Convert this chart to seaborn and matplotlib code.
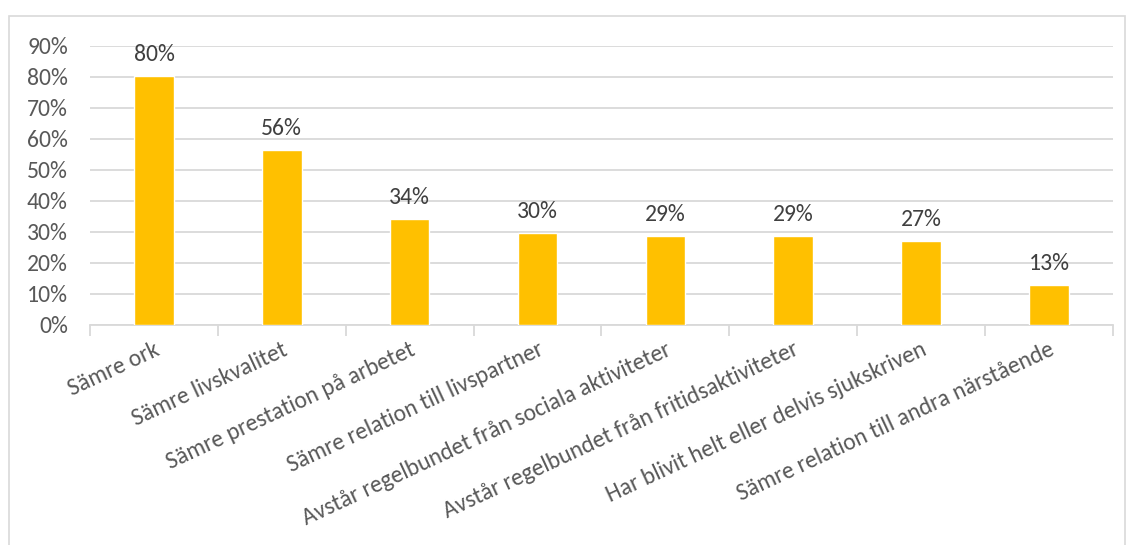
import numpy as np
import pandas as pd
import matplotlib.pyplot as plt
import seaborn as sns
from matplotlib.ticker import PercentFormatter, FixedLocator
from matplotlib.patches import Rectangle

# Data
categories = [
    "Sämre ork",
    "Sämre livskvalitet",
    "Sämre prestation på arbetet",
    "Sämre relation till livspartner",
    "Avstår regelbundet från sociala aktiviteter",
    "Avstår regelbundet från fritidsaktiviteter",
    "Har blivit helt eller delvis sjukskriven",
    "Sämre relation till andra närstående",
]
shares = [0.802, 0.563, 0.341, 0.296, 0.287, 0.286, 0.271, 0.128]

df = pd.DataFrame({"kategori": categories, "andel": shares})

sns.set_style("white")
plt.rcParams['font.family'] = ['Carlito', 'DejaVu Sans']
text_col = "#595959"
grid_col = "#D9D9D9"
fs = 17

fig = plt.figure(figsize=(11.31, 5.45), dpi=100)
ax = fig.add_axes([0.0796, 0.4037, 0.9044, 0.512])

sns.barplot(data=df, x="kategori", y="andel", color="#FFC000", width=0.31,
            saturation=1, ax=ax, zorder=3)

# value labels
ax.bar_label(ax.containers[0], labels=[f"{v:.0%}" for v in shares],
             padding=8, fontsize=fs, color="#404040")

ax.set_xlim(-0.5, len(categories) - 0.5)
ax.set_ylim(0, 0.9)
ax.yaxis.set_major_locator(FixedLocator(np.arange(0, 0.91, 0.1)))
ax.yaxis.set_major_formatter(PercentFormatter(1.0, decimals=0))
ax.grid(axis="y", color=grid_col, linewidth=1.3, zorder=0)
ax.set_xlabel("")
ax.set_ylabel("")

for s in ["top", "right", "left"]:
    ax.spines[s].set_visible(False)
ax.spines["bottom"].set_color(grid_col)
ax.spines["bottom"].set_linewidth(1.3)

ax.tick_params(axis="y", length=0, pad=16, labelsize=fs, labelcolor=text_col)
ax.set_xticks(np.arange(-0.5, len(categories)), minor=True)
ax.set_xticks(range(len(categories)))
ax.set_xticklabels(categories, rotation=25, ha="right", rotation_mode="anchor",
                   fontsize=fs, color=text_col)
ax.tick_params(axis="x", which="major", bottom=True, length=0, pad=10)
ax.tick_params(axis="x", which="minor", bottom=True, length=8, width=1.3, color=grid_col)

# outer chart border
fig.patches.append(Rectangle((0.008, -0.01), 0.987, 0.9806, transform=fig.transFigure,
                             fill=False, edgecolor=grid_col, linewidth=1.2))

fig.savefig("out.png", dpi=100)
